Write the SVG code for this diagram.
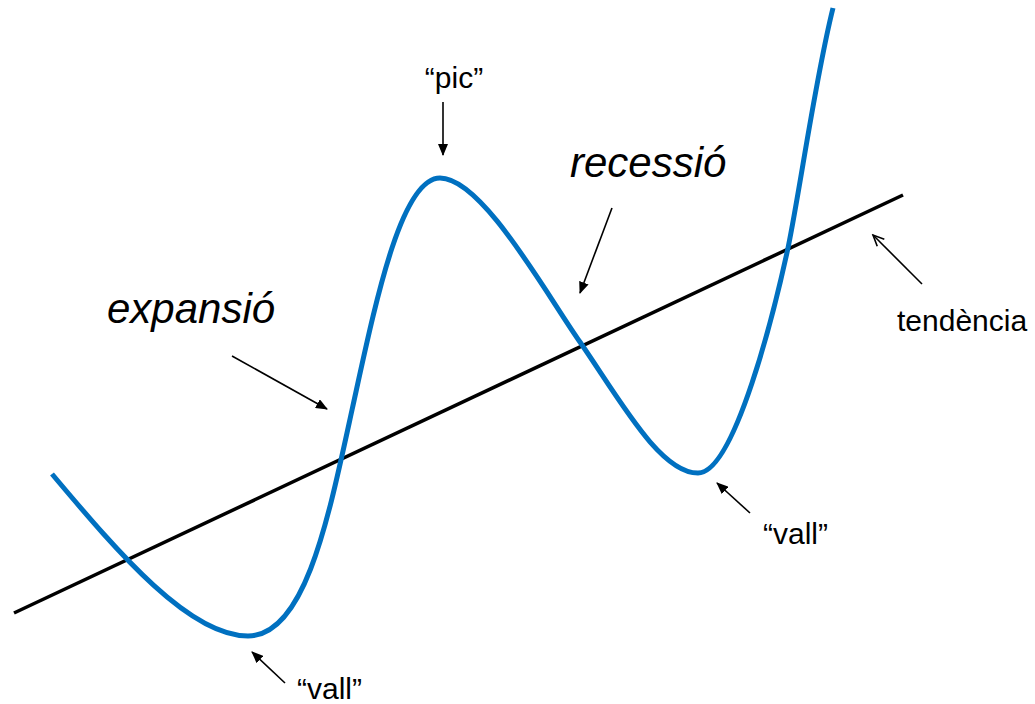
<svg xmlns="http://www.w3.org/2000/svg" width="1035" height="704" viewBox="0 0 1035 704">
<style>
.lbl{font-family:"Liberation Sans",Arial,sans-serif;font-size:30px;fill:#000}
.big{font-family:"Liberation Sans",Arial,sans-serif;font-size:42px;font-style:italic;fill:#000}
.arr{stroke:#000;stroke-width:1.6;fill:none}
</style>
<defs>
<marker id="tri" markerWidth="12" markerHeight="10" refX="11" refY="5" orient="auto" markerUnits="userSpaceOnUse">
<path d="M0,0 L12,5 L0,10 Z" fill="#000"/>
</marker>
<marker id="open" markerWidth="14" markerHeight="12" refX="12" refY="6" orient="auto" markerUnits="userSpaceOnUse">
<path d="M1,1 L12,6 L1,11" fill="none" stroke="#000" stroke-width="1.6"/>
</marker>
</defs>
<g id="trend">
<line x1="14" y1="613" x2="903" y2="195" stroke="#000" stroke-width="3.5"/>
</g>
<g id="cycle">
<path d="M52,474 C120,555 190,636 248,636 C305,636 328,520 352,410 C374,310 400,178 440,178 C482,178 545,292 580,342 C620,400 660,473 698,473 C735,473 775,308 788,248 C800,190 815,80 833,8" fill="none" stroke="#0070C0" stroke-width="5"/>
</g>
<g id="connectors">
<line class="arr" x1="443" y1="102" x2="443" y2="155" marker-end="url(#tri)"/>
<line class="arr" x1="612" y1="208" x2="580" y2="293" marker-end="url(#tri)"/>
<line class="arr" x1="232" y1="356" x2="327" y2="409" marker-end="url(#tri)"/>
<line class="arr" x1="922" y1="284" x2="873" y2="235" marker-end="url(#open)"/>
<line class="arr" x1="750" y1="513" x2="717" y2="483" marker-end="url(#tri)"/>
<line class="arr" x1="285" y1="683" x2="252" y2="652" marker-end="url(#tri)"/>
</g>
<g id="label-pic"><text class="lbl" x="454" y="88" text-anchor="middle">“pic”</text></g>
<g id="label-recessio"><text class="big" x="570" y="177">recessió</text></g>
<g id="label-expansio"><text class="big" x="107" y="323">expansió</text></g>
<g id="label-tendencia"><text class="lbl" x="897" y="331">tendència</text></g>
<g id="label-vall-right"><text class="lbl" x="763" y="544">“vall”</text></g>
<g id="label-vall-left"><text class="lbl" x="297" y="699">“vall”</text></g>
</svg>
